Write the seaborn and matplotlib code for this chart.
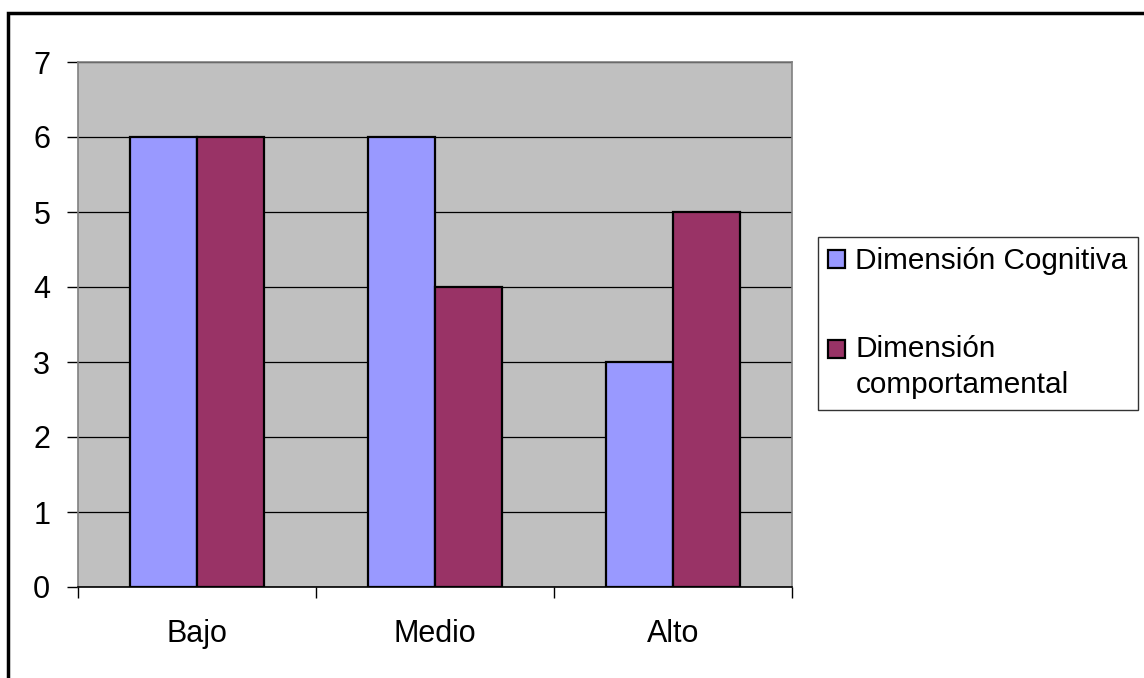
import matplotlib
matplotlib.use("Agg")
import matplotlib.pyplot as plt
import seaborn as sns
import pandas as pd
from matplotlib.patches import Rectangle
from matplotlib.legend_handler import HandlerPatch

categories = ["Bajo", "Medio", "Alto"]
cognitiva = [6, 6, 3]
comportamental = [6, 4, 5]
series_names = ["Dimensión Cognitiva", "Dimensión\ncomportamental"]
colors = ["#9999FF", "#993366"]

df = pd.DataFrame({
    "nivel": categories * 2,
    "valor": cognitiva + comportamental,
    "serie": [series_names[0]] * 3 + [series_names[1]] * 3,
})

sns.set_style("white")
plt.rcParams["font.family"] = ["Liberation Sans", "DejaVu Sans"]
plt.rcParams["text.color"] = "black"

fig = plt.figure(figsize=(11.44, 6.78), dpi=100)
ax = fig.add_axes([78 / 1144, 1 - 587 / 678, (792 - 78) / 1144, (587 - 62) / 678])
ax.set_facecolor("#C0C0C0")

sns.barplot(data=df, x="nivel", y="valor", hue="serie", order=categories,
            hue_order=series_names, palette=colors, saturation=1, width=0.565,
            edgecolor="black", linewidth=1.6, ax=ax, zorder=3, legend=True)

ax.set_xlim(-0.5, 2.5)
ax.set_ylim(0, 7)
ax.set_yticks(range(0, 8))
ax.yaxis.grid(True, color="black", linewidth=0.9, zorder=1)
ax.set_axisbelow(True)
ax.set_xlabel("")
ax.set_ylabel("")

ax.set_xticks([0, 1, 2])
ax.set_xticklabels(categories)
ax.set_xticks([-0.5, 0.5, 1.5, 2.5], minor=True)
ax.tick_params(axis="x", which="major", bottom=True, length=0, pad=23,
               labelsize=22, labelcolor="black")
ax.tick_params(axis="x", which="minor", bottom=True, length=8, width=1,
               color="black", direction="out")
ax.tick_params(axis="y", left=True, length=8, width=1, color="black",
               direction="out", pad=12, labelsize=22, labelcolor="black")

for side in ["top", "right", "left"]:
    ax.spines[side].set_color("#808080")
    ax.spines[side].set_linewidth(1.2)
ax.spines["bottom"].set_color("black")
ax.spines["bottom"].set_linewidth(1.2)


def raised_square(legend, orig_handle, xdescent, ydescent, width, height, fontsize):
    # put the marker next to the first line of a wrapped label
    return Rectangle((-xdescent, -ydescent + 13.5), width, height)


handles, labels = ax.get_legend_handles_labels()
ax.get_legend().remove()
leg = ax.legend(handles, labels, loc="upper left",
                bbox_to_anchor=(818 / 1144, 1 - 237 / 678),
                bbox_transform=fig.transFigure, fontsize=21.4, frameon=True,
                fancybox=False, edgecolor="black", handlelength=0.55,
                handleheight=0.55, handletextpad=0.36, labelspacing=2.0,
                borderpad=0.35, borderaxespad=0,
                handler_map={handles[1]: HandlerPatch(patch_func=raised_square)})
leg.get_frame().set_linewidth(1.0)
for t in leg.get_texts():
    t.set_color("black")
    t.set_linespacing(1.38)

fig.patches.append(Rectangle((8 / 1144, -0.1), 1.2, 1 - 13 / 678 + 0.1,
                             transform=fig.transFigure, fill=False,
                             edgecolor="black", linewidth=2.5))

fig.savefig("out.png", dpi=100)
